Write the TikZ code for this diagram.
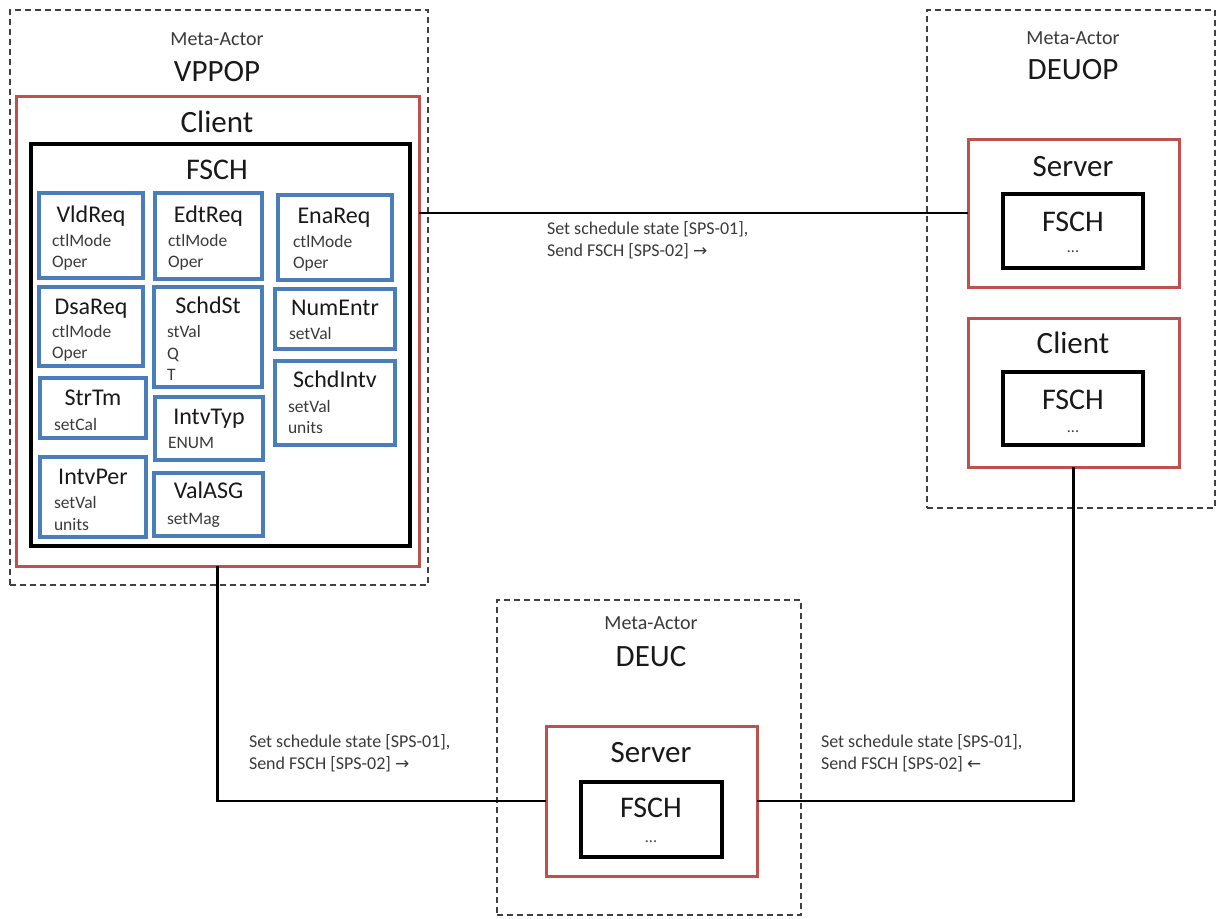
\documentclass[tikz,border=0pt]{standalone}
\usepackage{fontspec}
\setmainfont{Carlito}
\newfontfamily\arrowfont{DejaVu Sans}
\definecolor{boxred}{HTML}{C0504D}
\definecolor{boxblue}{HTML}{4A7EBB}
\definecolor{txtgray}{HTML}{3A3A3A}
\newcommand\mkbox[6]{\node[#2, minimum width={(#5-#3)*1pt}, minimum height={(#6-#4)*1pt}] (#1) at ({(#3+#5)/2},{(#4+#6)/2}) {};}
\begin{document}
\begin{tikzpicture}[x=1pt,y=-1pt,
  every node/.style={inner sep=0pt, outer sep=0pt},
  dashbox/.style={draw=black!75, line width=1.8pt, dash pattern=on 6pt off 4pt},
  redbox/.style={draw=boxred, line width=3pt},
  blackbox/.style={draw=black, line width=3.4pt},
  bluebox/.style={draw=boxblue, line width=3.2pt},
  conn/.style={draw=black, line width=2.3pt},
  meta/.style={font=\fontsize{20}{24}\selectfont, text=txtgray},
  big/.style={font=\fontsize{31}{36}\selectfont, text=black!90},
  fsch/.style={font=\fontsize{30}{34}\selectfont, text=black!90},
  dots/.style={font=\fontsize{16}{18}\selectfont, text=txtgray},
  btitle/.style={font=\fontsize{24}{28}\selectfont, text=black!90, text height=16pt, text depth=5pt},
  attr/.style={font=\fontsize{17.5}{20}\selectfont, text=txtgray, anchor=west, text height=12pt, text depth=3pt},
  lbl/.style={font=\fontsize{18}{22.5}\selectfont, text=txtgray, align=left, anchor=west}
]
\useasboundingbox (0,0) rectangle (1217,918);

% ---------- VPPOP ----------
\mkbox{vppop}{dashbox}{10}{10}{428}{585}
\mkbox{vcli}{redbox}{16}{96}{419}{566}
\mkbox{vfsch}{blackbox}{31}{144}{410}{546}
\node[meta] (vppop-m) at (217,39) {Meta-Actor};
\node[big] (vppop-n) at (217,72) {VPPOP};
\node[big] (vcli-t) at (217,122) {Client};
\node[fsch] (vfsch-t) at (217,170) {FSCH};

\mkbox{vld}{bluebox}{39}{193}{143}{278}
\mkbox{edt}{bluebox}{155}{193}{262}{279}
\mkbox{ena}{bluebox}{278}{195}{392}{280}
\mkbox{dsa}{bluebox}{39}{287}{143}{366}
\mkbox{sst}{bluebox}{154}{287}{262}{387}
\mkbox{num}{bluebox}{275}{289}{395}{349}
\mkbox{str}{bluebox}{40}{378}{146}{438}
\mkbox{ityp}{bluebox}{155}{397}{263}{460}
\mkbox{sint}{bluebox}{275}{361}{395}{445}
\mkbox{iper}{bluebox}{40}{457}{146}{537}
\mkbox{vasg}{bluebox}{154}{473}{263}{536}

\node[btitle] (vld-t) at (91,217) {VldReq};
\node[attr] (vld-a1) at (52,242) {ctlMode};
\node[attr] (vld-a2) at (52,263) {Oper};

\node[btitle] (edt-t) at (208.5,217) {EdtReq};
\node[attr] (edt-a1) at (168,242) {ctlMode};
\node[attr] (edt-a2) at (168,263) {Oper};

\node[btitle] (ena-t) at (334,218) {EnaReq};
\node[attr] (ena-a1) at (293,243) {ctlMode};
\node[attr] (ena-a2) at (293,264) {Oper};

\node[btitle] (dsa-t) at (91,309) {DsaReq};
\node[attr] (dsa-a1) at (52,333) {ctlMode};
\node[attr] (dsa-a2) at (52,354) {Oper};

\node[btitle] (sst-t) at (208,308) {SchdSt};
\node[attr] (sst-a1) at (167,333) {stVal};
\node[attr] (sst-a2) at (167,355) {Q};
\node[attr] (sst-a3) at (167,376) {T};

\node[btitle] (num-t) at (335,310) {NumEntr};
\node[attr] (num-a1) at (289,335) {setVal};

\node[btitle] (str-t) at (93,400) {StrTm};
\node[attr] (str-a1) at (54,426) {setCal};

\node[btitle] (ityp-t) at (209,419) {IntvTyp};
\node[attr] (ityp-a1) at (168,444) {ENUM};

\node[btitle] (sint-t) at (335,382) {SchdIntv};
\node[attr] (sint-a1) at (288,408) {setVal};
\node[attr] (sint-a2) at (288,429) {units};

\node[btitle] (iper-t) at (93,479) {IntvPer};
\node[attr] (iper-a1) at (54,504) {setVal};
\node[attr] (iper-a2) at (54,526) {units};

\node[btitle] (vasg-t) at (208.5,493) {ValASG};
\node[attr] (vasg-a1) at (167,520) {setMag};

% ---------- DEUOP ----------
\mkbox{deuop}{dashbox}{927}{10}{1215}{508}
\node[meta] (deuop-m) at (1073,38) {Meta-Actor};
\node[big] (deuop-n) at (1073,70) {DEUOP};
\mkbox{dsrv}{redbox}{968}{139}{1179}{287}
\node[big] (dsrv-t) at (1073,167) {Server};
\mkbox{dsfsch}{blackbox}{1003}{194}{1143}{268}
\node[fsch] (dsfsch-t) at (1073,222) {FSCH};
\node[dots] (dsfsch-d) at (1073,252) {...};
\mkbox{dcli}{redbox}{968}{318}{1179}{467}
\node[big] (dcli-t) at (1073,343) {Client};
\mkbox{dcfsch}{blackbox}{1003}{372}{1143}{445}
\node[fsch] (dcfsch-t) at (1073,400) {FSCH};
\node[dots] (dcfsch-d) at (1073,432) {...};

% ---------- DEUC ----------
\mkbox{deuc}{dashbox}{497}{600}{801}{915}
\node[meta] (deuc-m) at (651,623) {Meta-Actor};
\node[big] (deuc-n) at (651,657) {DEUC};
\mkbox{csrv}{redbox}{546}{726}{757}{876}
\node[big] (csrv-t) at (651,753) {Server};
\mkbox{cfsch}{blackbox}{581}{782}{722}{857}
\node[fsch] (cfsch-t) at (651,808) {FSCH};
\node[dots] (cfsch-d) at (651,842) {...};

% ---------- connectors ----------
\draw[conn] (vcli.east |- dsrv.west) -- (dsrv.west);
\draw[conn] (vcli.south) |- (csrv.west);
\draw[conn] (dcli.south) |- (csrv.east);

\node[lbl] (lbl1) at (547,240) {Set schedule state [SPS-01],\\Send FSCH [SPS-02] {\arrowfont\fontsize{17}{18}\selectfont →}};
\node[lbl] (lbl2) at (249,753) {Set schedule state [SPS-01],\\Send FSCH [SPS-02] {\arrowfont\fontsize{17}{18}\selectfont →}};
\node[lbl] (lbl3) at (821,753) {Set schedule state [SPS-01],\\Send FSCH [SPS-02] {\arrowfont\fontsize{17}{18}\selectfont ←}};
\end{tikzpicture}
\end{document}
